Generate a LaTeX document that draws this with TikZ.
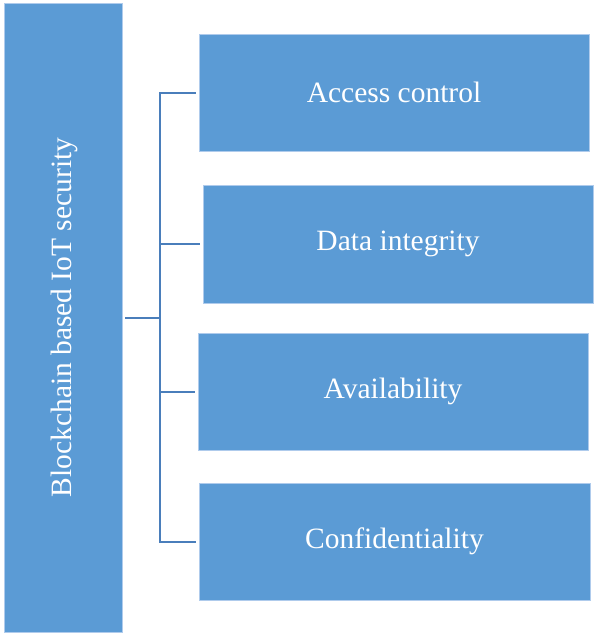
\documentclass[tikz,border=0pt]{standalone}
\usepackage{fontspec}
\setmainfont{Liberation Serif}
\definecolor{boxfill}{RGB}{91,155,213}
\definecolor{boxedge}{RGB}{175,203,236}
\definecolor{linkcol}{RGB}{74,126,187}
\begin{document}
\begin{tikzpicture}[x=1pt,y=-1pt,
  bluebox/.style={draw=boxedge,line width=0.6pt,fill=boxfill,text=white,
    font=\fontsize{29.5}{35}\selectfont,inner sep=0pt},
  link/.style={draw=linkcol,line width=2pt}]
\useasboundingbox (0,0) rectangle (600,637);
\node[bluebox,minimum width=118pt,minimum height=629pt] (L) at (63,317.5) {};
\node[text=white,font=\fontsize{29.5}{35}\selectfont,rotate=90] (Lt) at (64,317.5) {Blockchain based IoT security};
\node[bluebox,minimum width=390pt,minimum height=117pt] (b1) at (394,92.5) {Access control};
\node[bluebox,minimum width=390pt,minimum height=118pt] (b2) at (398,244) {Data integrity};
\node[bluebox,minimum width=390pt,minimum height=117pt] (b3) at (393,391.5) {Availability};
\node[bluebox,minimum width=391pt,minimum height=117pt] (b4) at (394.5,541.5) {Confidentiality};
\coordinate (j) at (160,317.5);
\draw[link,shorten <=3pt] (L.east |- j) -- (j);
\draw[link,shorten >=3pt] (j) |- (b1.west);
\draw[link,shorten >=3pt] (j) |- (b2.west);
\draw[link,shorten >=3pt] (j) |- (b3.west);
\draw[link,shorten >=3pt] (j) |- (b4.west);
\end{tikzpicture}
\end{document}
